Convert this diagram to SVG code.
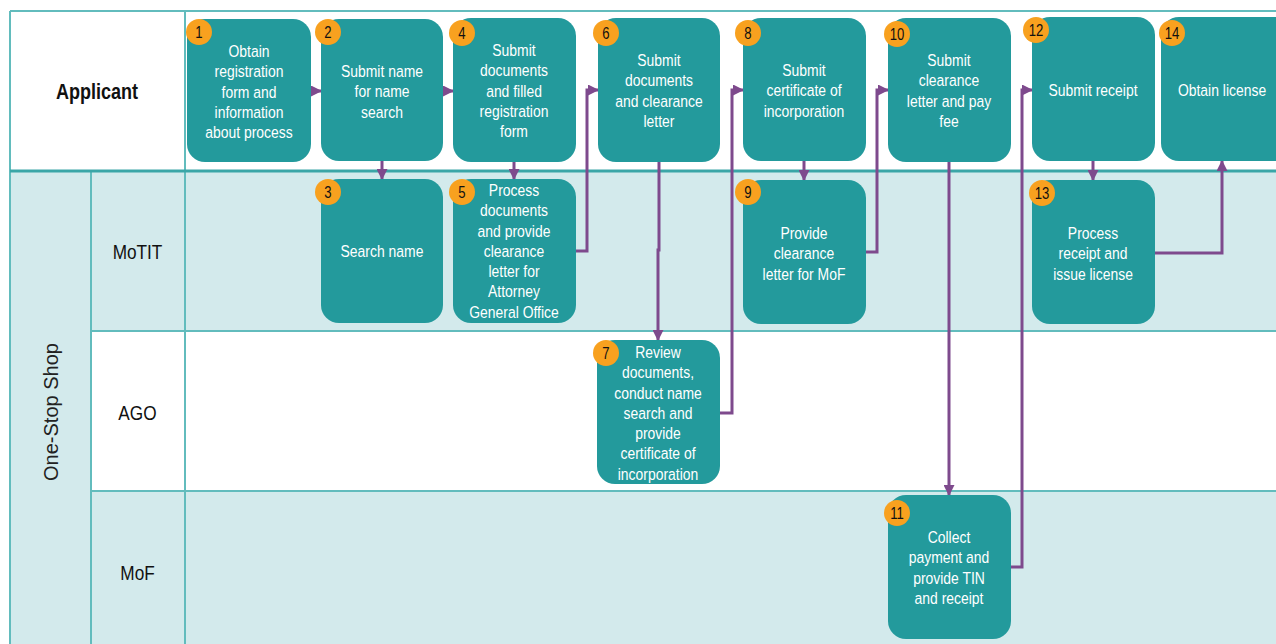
<svg xmlns="http://www.w3.org/2000/svg" width="1276" height="644" viewBox="0 0 1276 644">
<defs>
<style>
.bg{fill:#ffffff}
.lite{fill:#d3eaec}
.grid{stroke:#62bcbd;stroke-width:2;fill:none}
.gridb{stroke:#3aa6a7;stroke-width:3;fill:none}
.box{fill:#239a9c}
.t{font-family:"Liberation Sans",Arial,sans-serif;font-size:17px;fill:#ffffff;text-anchor:middle}
.badge{fill:#f8a11f}
.bt{font-family:"Liberation Sans",Arial,sans-serif;font-size:16px;fill:#111111;text-anchor:middle}
.lbl{font-family:"Liberation Sans",Arial,sans-serif;font-size:21px;fill:#111111;text-anchor:middle}
.lblb{font-family:"Liberation Sans",Arial,sans-serif;font-size:22px;font-weight:bold;fill:#111111;text-anchor:middle}
.vlbl{font-family:"Liberation Sans",Arial,sans-serif;font-size:20px;fill:#222222;text-anchor:middle}
.c{stroke:#7e4a8d;stroke-width:3;fill:none;marker-end:url(#ah)}
</style>
<marker id="ah" markerUnits="userSpaceOnUse" markerWidth="11" markerHeight="11" refX="10" refY="5.5" orient="auto">
<path d="M0,0 L11,5.5 L0,11 z" fill="#7e4a8d"/>
</marker>
</defs>
<g id="lanes">
<rect class="bg" x="0" y="0" width="1276" height="644"/>
<rect class="lite" x="10" y="171" width="1266" height="473"/>
<rect class="bg" x="91" y="331" width="1185" height="160"/>
<line class="grid" x1="10" y1="11" x2="1276" y2="11"/>
<line class="grid" x1="10" y1="11" x2="10" y2="644"/>
<line class="grid" x1="185" y1="11" x2="185" y2="644"/>
<line class="grid" x1="91" y1="171" x2="91" y2="644"/>
<line class="gridb" x1="10" y1="171" x2="1276" y2="171"/>
<line class="grid" x1="91" y1="331" x2="1276" y2="331"/>
<line class="grid" x1="91" y1="491" x2="1276" y2="491"/>
<text class="lblb" transform="translate(97,99) scale(0.82,1)">Applicant</text>
<text class="lbl" transform="translate(137.5,259) scale(0.82,1)">MoTIT</text>
<text class="lbl" transform="translate(137.5,420) scale(0.82,1)">AGO</text>
<text class="lbl" transform="translate(137.5,580) scale(0.82,1)">MoF</text>
<text class="vlbl" transform="translate(58,412) rotate(-90)">One-Stop Shop</text>
</g>
<g id="connectors">
<path class="c" d="M311,91 L321,91"/>
<path class="c" d="M443,91 L453,91"/>
<path class="c" d="M382,161 L382,179"/>
<path class="c" d="M514,162 L514,179"/>
<path class="c" d="M576,251 L587,251 L587,90 L598,90"/>
<path class="c" d="M659,162 L659,250 L658,250 L658,340"/>
<path class="c" d="M720,413 L732,413 L732,90 L743,90"/>
<path class="c" d="M804,161 L804,180"/>
<path class="c" d="M866,252 L877,252 L877,90 L888,90"/>
<path class="c" d="M949,162 L949,495"/>
<path class="c" d="M1011,567 L1022,567 L1022,90 L1032,90"/>
<path class="c" d="M1093,161 L1093,180"/>
<path class="c" d="M1155,253 L1222,253 L1222,161"/>
</g>
<g id="n1"><rect class="box" x="187" y="19" width="124" height="143" rx="18"/><circle class="badge" cx="199" cy="32" r="13"/><text class="bt" transform="translate(199,38) scale(0.82,1)">1</text>
<text class="t" transform="translate(249,0) scale(0.82,1)" y="57"><tspan x="0">Obtain</tspan><tspan x="0" dy="20.3">registration</tspan><tspan x="0" dy="20.3">form and</tspan><tspan x="0" dy="20.3">information</tspan><tspan x="0" dy="20.3">about process</tspan></text></g>
<g id="n2"><rect class="box" x="321" y="19" width="122" height="142" rx="18"/><circle class="badge" cx="328" cy="32" r="13"/><text class="bt" transform="translate(328,38) scale(0.82,1)">2</text>
<text class="t" transform="translate(382,0) scale(0.82,1)" y="77"><tspan x="0">Submit name</tspan><tspan x="0" dy="20.3">for name</tspan><tspan x="0" dy="20.3">search</tspan></text></g>
<g id="n3"><rect class="box" x="321" y="179" width="122" height="144" rx="18"/><circle class="badge" cx="328" cy="192" r="13"/><text class="bt" transform="translate(328,198) scale(0.82,1)">3</text>
<text class="t" transform="translate(382,0) scale(0.82,1)" y="257">Search name</text></g>
<g id="n4"><rect class="box" x="453" y="18" width="123" height="144" rx="18"/><circle class="badge" cx="462" cy="33" r="13"/><text class="bt" transform="translate(462,39) scale(0.82,1)">4</text>
<text class="t" transform="translate(514,0) scale(0.82,1)" y="56"><tspan x="0">Submit</tspan><tspan x="0" dy="20.3">documents</tspan><tspan x="0" dy="20.3">and filled</tspan><tspan x="0" dy="20.3">registration</tspan><tspan x="0" dy="20.3">form</tspan></text></g>
<g id="n5"><rect class="box" x="453" y="179" width="123" height="144" rx="18"/><circle class="badge" cx="462" cy="192" r="13"/><text class="bt" transform="translate(462,198) scale(0.82,1)">5</text>
<text class="t" transform="translate(514,0) scale(0.82,1)" y="196"><tspan x="0">Process</tspan><tspan x="0" dy="20.3">documents</tspan><tspan x="0" dy="20.3">and provide</tspan><tspan x="0" dy="20.3">clearance</tspan><tspan x="0" dy="20.3">letter for</tspan><tspan x="0" dy="20.3">Attorney</tspan><tspan x="0" dy="20.3">General Office</tspan></text></g>
<g id="n6"><rect class="box" x="598" y="18" width="122" height="144" rx="18"/><circle class="badge" cx="606" cy="33" r="13"/><text class="bt" transform="translate(606,39) scale(0.82,1)">6</text>
<text class="t" transform="translate(659,0) scale(0.82,1)" y="66"><tspan x="0">Submit</tspan><tspan x="0" dy="20.3">documents</tspan><tspan x="0" dy="20.3">and clearance</tspan><tspan x="0" dy="20.3">letter</tspan></text></g>
<g id="n7"><rect class="box" x="597" y="340" width="123" height="144" rx="18"/><circle class="badge" cx="606" cy="353" r="13"/><text class="bt" transform="translate(606,359) scale(0.82,1)">7</text>
<text class="t" transform="translate(658,0) scale(0.82,1)" y="358"><tspan x="0">Review</tspan><tspan x="0" dy="20.3">documents,</tspan><tspan x="0" dy="20.3">conduct name</tspan><tspan x="0" dy="20.3">search and</tspan><tspan x="0" dy="20.3">provide</tspan><tspan x="0" dy="20.3">certificate of</tspan><tspan x="0" dy="20.3">incorporation</tspan></text></g>
<g id="n8"><rect class="box" x="743" y="18" width="123" height="143" rx="18"/><circle class="badge" cx="748" cy="33" r="13"/><text class="bt" transform="translate(748,39) scale(0.82,1)">8</text>
<text class="t" transform="translate(804,0) scale(0.82,1)" y="76"><tspan x="0">Submit</tspan><tspan x="0" dy="20.3">certificate of</tspan><tspan x="0" dy="20.3">incorporation</tspan></text></g>
<g id="n9"><rect class="box" x="743" y="180" width="123" height="144" rx="18"/><circle class="badge" cx="748" cy="192" r="13"/><text class="bt" transform="translate(748,198) scale(0.82,1)">9</text>
<text class="t" transform="translate(804,0) scale(0.82,1)" y="239"><tspan x="0">Provide</tspan><tspan x="0" dy="20.3">clearance</tspan><tspan x="0" dy="20.3">letter for MoF</tspan></text></g>
<g id="n10"><rect class="box" x="888" y="18" width="123" height="144" rx="18"/><circle class="badge" cx="897" cy="34" r="13"/><text class="bt" transform="translate(897,40) scale(0.82,1)">10</text>
<text class="t" transform="translate(949,0) scale(0.82,1)" y="66"><tspan x="0">Submit</tspan><tspan x="0" dy="20.3">clearance</tspan><tspan x="0" dy="20.3">letter and pay</tspan><tspan x="0" dy="20.3">fee</tspan></text></g>
<g id="n11"><rect class="box" x="888" y="495" width="123" height="144" rx="18"/><circle class="badge" cx="897" cy="513" r="13"/><text class="bt" transform="translate(897,519) scale(0.82,1)">11</text>
<text class="t" transform="translate(949,0) scale(0.82,1)" y="543"><tspan x="0">Collect</tspan><tspan x="0" dy="20.3">payment and</tspan><tspan x="0" dy="20.3">provide TIN</tspan><tspan x="0" dy="20.3">and receipt</tspan></text></g>
<g id="n12"><rect class="box" x="1032" y="17" width="123" height="144" rx="18"/><circle class="badge" cx="1036" cy="30" r="13"/><text class="bt" transform="translate(1036,36) scale(0.82,1)">12</text>
<text class="t" transform="translate(1093,0) scale(0.82,1)" y="96">Submit receipt</text></g>
<g id="n13"><rect class="box" x="1032" y="180" width="123" height="144" rx="18"/><circle class="badge" cx="1042" cy="193" r="13"/><text class="bt" transform="translate(1042,199) scale(0.82,1)">13</text>
<text class="t" transform="translate(1093,0) scale(0.82,1)" y="239"><tspan x="0">Process</tspan><tspan x="0" dy="20.3">receipt and</tspan><tspan x="0" dy="20.3">issue license</tspan></text></g>
<g id="n14"><rect class="box" x="1161" y="17" width="135" height="144" rx="18"/><circle class="badge" cx="1172" cy="33" r="13"/><text class="bt" transform="translate(1172,39) scale(0.82,1)">14</text>
<text class="t" transform="translate(1222,0) scale(0.82,1)" y="96">Obtain license</text></g>
</svg>
